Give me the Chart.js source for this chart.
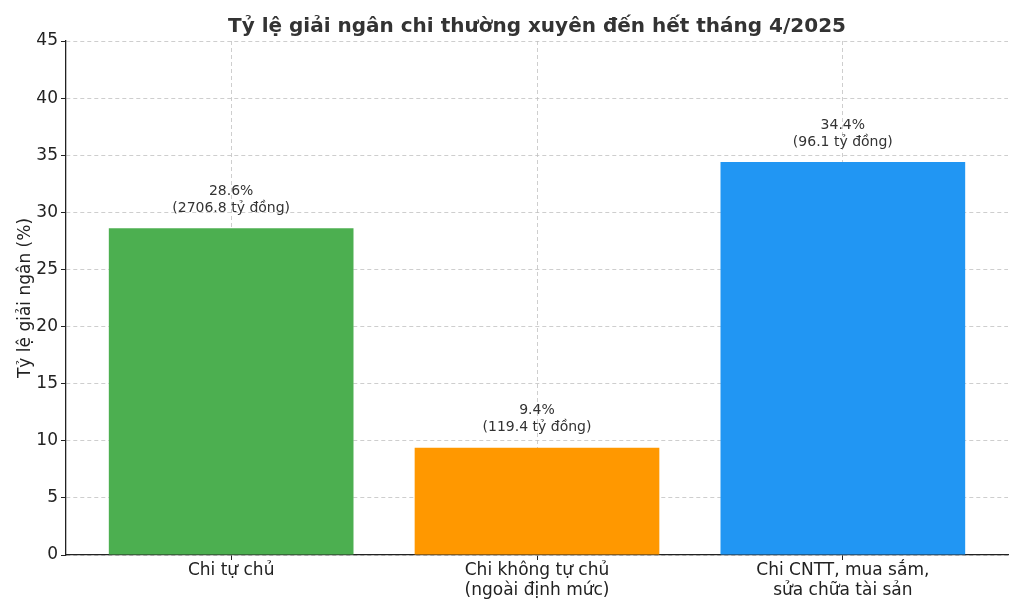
<!DOCTYPE html>
<html>
<head>
<meta charset="utf-8">
<script src="https://cdn.jsdelivr.net/npm/chart.js@4"></script>
<style>
  html, body { margin: 0; padding: 0; background: #fff; }
  #wrap { width: 1024px; height: 614px; }
</style>
</head>
<body>
<div id="wrap"><canvas id="chart"></canvas></div>
<script>
// Dữ liệu biểu đồ
const categories = [
    ['Chi tự chủ'],
    ['Chi không tự chủ', '(ngoài định mức)'],
    ['Chi CNTT, mua sắm,', 'sửa chữa tài sản']
];
const rates = [28.6, 9.4, 34.4];
const amounts = ['2706.8', '119.4', '96.1'];
const barColors = ['#4CAF50', '#FF9800', '#2196F3'];
const yTicks = [0, 5, 10, 15, 20, 25, 30, 35, 40, 45];
const titleText = 'Tỷ lệ giải ngân chi thường xuyên đến hết tháng 4/2025';
const yTitle = 'Tỷ lệ giải ngân (%)';

const FONT = "'DejaVu Sans', sans-serif";
const GRID = 'rgba(190,190,190,0.75)';

// Nhãn trên cột và tiêu đề
const labelPlugin = {
    id: 'barLabels',
    afterDraw(chart) {
        const ctx = chart.ctx;
        const meta = chart.getDatasetMeta(0);
        ctx.save();
        ctx.fillStyle = '#333';
        ctx.textAlign = 'center';
        ctx.textBaseline = 'middle';
        ctx.font = '14px ' + FONT;
        meta.data.forEach((bar, i) => {
            ctx.fillText(rates[i].toFixed(1) + '%', bar.x, bar.y - 37);
            ctx.fillText('(' + amounts[i] + ' tỷ đồng)', bar.x, bar.y - 20);
        });
        const area = chart.chartArea;
        ctx.font = 'bold 20px ' + FONT;
        ctx.fillText(titleText, (area.left + area.right) / 2, 27);
        ctx.restore();
    }
};

new Chart(document.getElementById('chart'), {
    type: 'bar',
    data: {
        datasets: [{
            data: rates.map((v, i) => ({ x: i, y: v })),
            backgroundColor: barColors,
            barPercentage: 0.8,
            categoryPercentage: 1.0
        }]
    },
    options: {
        responsive: true,
        maintainAspectRatio: false,
        animation: false,
        layout: { padding: { top: 41, right: 16, left: 15, bottom: 0 } },
        plugins: {
            legend: { display: false },
            tooltip: { enabled: false }
        },
        scales: {
            x: {
                type: 'linear',
                z: 1,
                min: -0.54,
                max: 2.54,
                offset: false,
                afterBuildTicks(scale) {
                    scale.ticks = categories.map((c, i) => ({ value: i }));
                },
                grid: {
                    offset: false,
                    color: GRID,
                    tickColor: '#222',
                    tickBorderDash: [],
                    tickLength: 5
                },
                border: { color: '#222', width: 1.3, dash: [4, 3] },
                ticks: {
                    color: '#222',
                    font: { size: 17, family: FONT },
                    padding: 0,
                    maxRotation: 0,
                    autoSkip: false,
                    callback: (v) => categories[v] || ''
                },
                afterFit(scale) { scale.height = 59; }
            },
            y: {
                z: 1,
                min: 0,
                max: 45,
                afterBuildTicks(scale) {
                    scale.ticks = yTicks.map(v => ({ value: v }));
                },
                ticks: {
                    color: '#222',
                    font: { size: 17, family: FONT },
                    padding: 3
                },
                grid: {
                    color: GRID,
                    tickColor: '#222',
                    tickBorderDash: [],
                    tickLength: 5
                },
                border: { color: '#222', width: 1.3, dash: [4, 3] },
                title: {
                    display: true,
                    text: yTitle,
                    color: '#222',
                    font: { size: 17, family: FONT },
                    padding: { top: 0, bottom: 4 }
                },
                afterFit(scale) { scale.width = 51; }
            }
        }
    },
    plugins: [labelPlugin]
});
</script>
</body>
</html>
